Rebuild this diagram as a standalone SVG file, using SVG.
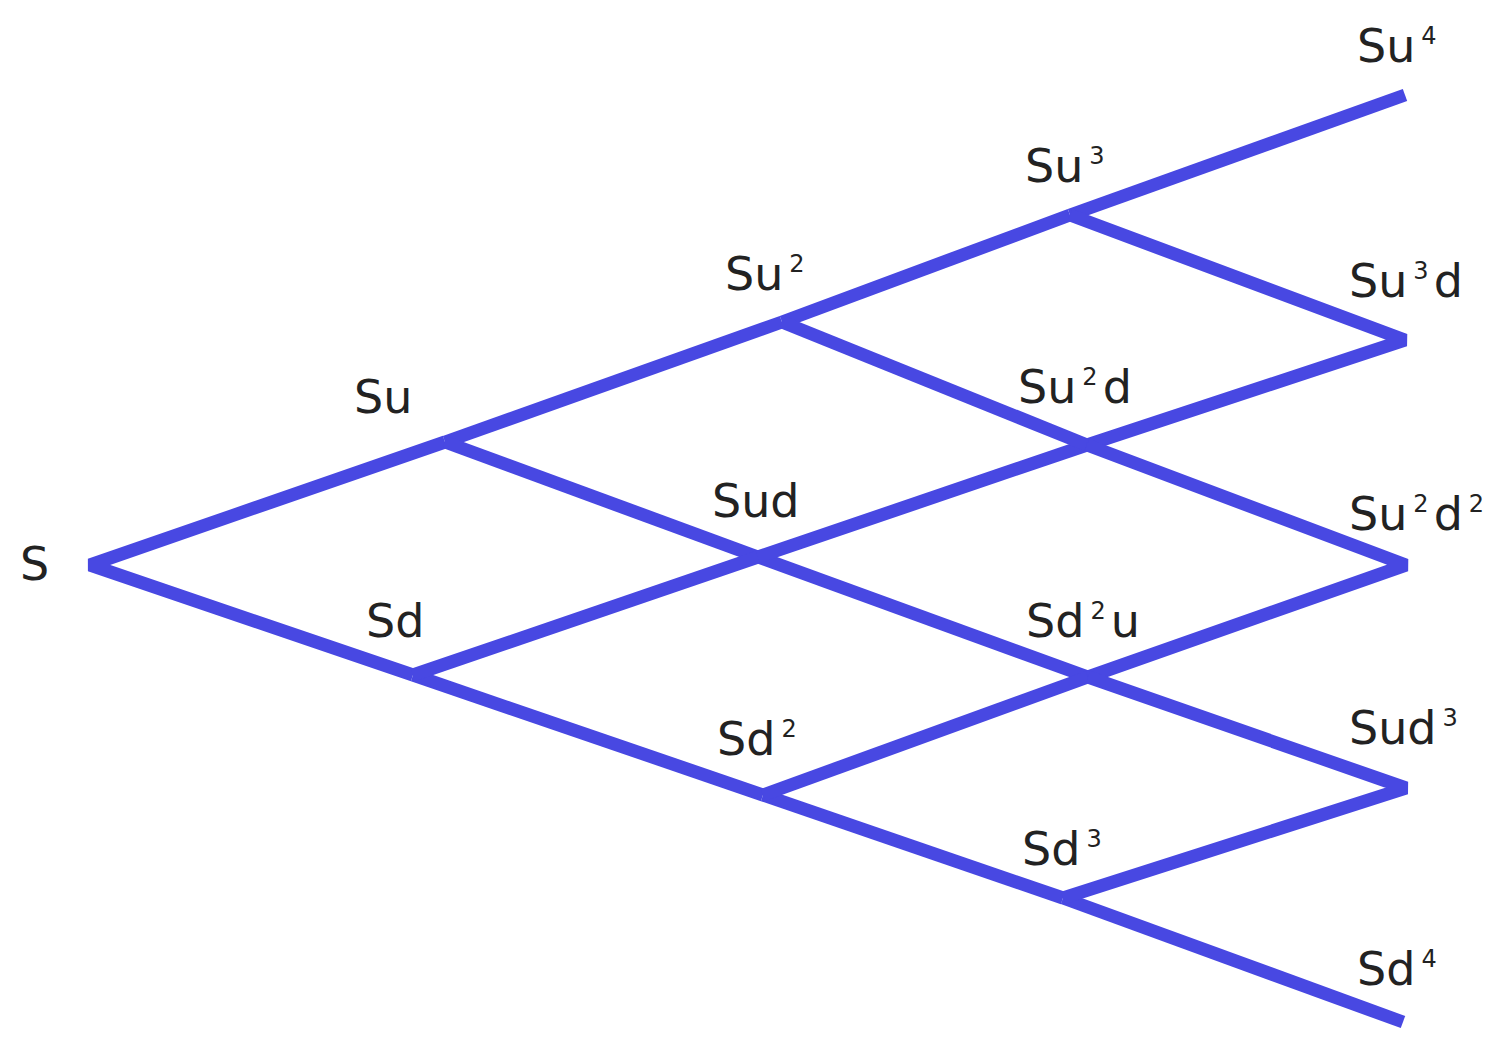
<svg xmlns="http://www.w3.org/2000/svg" width="1500" height="1037" viewBox="0 0 1500 1037">
<style>
.e{fill:none;stroke:#4848E2;stroke-width:13;stroke-linejoin:bevel;stroke-linecap:butt}
text{font-family:"DejaVu Sans","Liberation Sans",sans-serif;font-size:46px;fill:#222}
.sp{font-size:24px}
</style>
<rect width="1500" height="1037" fill="#fff"/>
<g id="connectors">
<polyline class="e" points="445,442 90,565 413,675"/>
<line class="e" x1="445" y1="442" x2="782" y2="322"/>
<line class="e" x1="782" y1="322" x2="1070" y2="215"/>
<line class="e" x1="1070" y1="215" x2="1405" y2="95"/>
<line class="e" x1="413" y1="675" x2="763" y2="795"/>
<line class="e" x1="763" y1="795" x2="1063" y2="898"/>
<line class="e" x1="1063" y1="898" x2="1403" y2="1022"/>
<line class="e" x1="445" y1="442" x2="758" y2="557"/>
<line class="e" x1="758" y1="557" x2="1088" y2="677"/>
<line class="e" x1="413" y1="675" x2="758" y2="557"/>
<line class="e" x1="758" y1="557" x2="1087" y2="445"/>
<line class="e" x1="782" y1="322" x2="1087" y2="445"/>
<line class="e" x1="763" y1="795" x2="1088" y2="677"/>
<polyline class="e" points="1070,215 1405,340 1087,445"/>
<polyline class="e" points="1087,445 1406,565 1088,677"/>
<polyline class="e" points="1088,677 1406,788 1063,898"/>
</g>
<g id="n-S"><text x="20" y="580">S</text></g>
<g id="n-Su"><text x="354" y="413">Su</text></g>
<g id="n-Sd"><text x="366" y="637">Sd</text></g>
<g id="n-Su2"><text x="725" y="290">Su<tspan class="sp" dx="6" dy="-18">2</tspan></text></g>
<g id="n-Sud"><text x="712" y="517">Sud</text></g>
<g id="n-Sd2"><text x="717" y="755">Sd<tspan class="sp" dx="6" dy="-18">2</tspan></text></g>
<g id="n-Su3"><text x="1025" y="182">Su<tspan class="sp" dx="6" dy="-18">3</tspan></text></g>
<g id="n-Su2d"><text x="1018" y="403">Su<tspan class="sp" dx="6" dy="-18">2</tspan><tspan dx="5" dy="18">d</tspan></text></g>
<g id="n-Sd2u"><text x="1026" y="637">Sd<tspan class="sp" dx="6" dy="-18">2</tspan><tspan dx="5" dy="18">u</tspan></text></g>
<g id="n-Sd3"><text x="1022" y="865">Sd<tspan class="sp" dx="6" dy="-18">3</tspan></text></g>
<g id="n-Su4"><text x="1357" y="62">Su<tspan class="sp" dx="6" dy="-18">4</tspan></text></g>
<g id="n-Su3d"><text x="1349" y="297">Su<tspan class="sp" dx="6" dy="-18">3</tspan><tspan dx="5" dy="18">d</tspan></text></g>
<g id="n-Su2d2"><text x="1349" y="530">Su<tspan class="sp" dx="6" dy="-18">2</tspan><tspan dx="5" dy="18">d</tspan><tspan class="sp" dx="6" dy="-18">2</tspan></text></g>
<g id="n-Sud3"><text x="1349" y="744">Sud<tspan class="sp" dx="6" dy="-18">3</tspan></text></g>
<g id="n-Sd4"><text x="1357" y="985">Sd<tspan class="sp" dx="6" dy="-18">4</tspan></text></g>
</svg>
